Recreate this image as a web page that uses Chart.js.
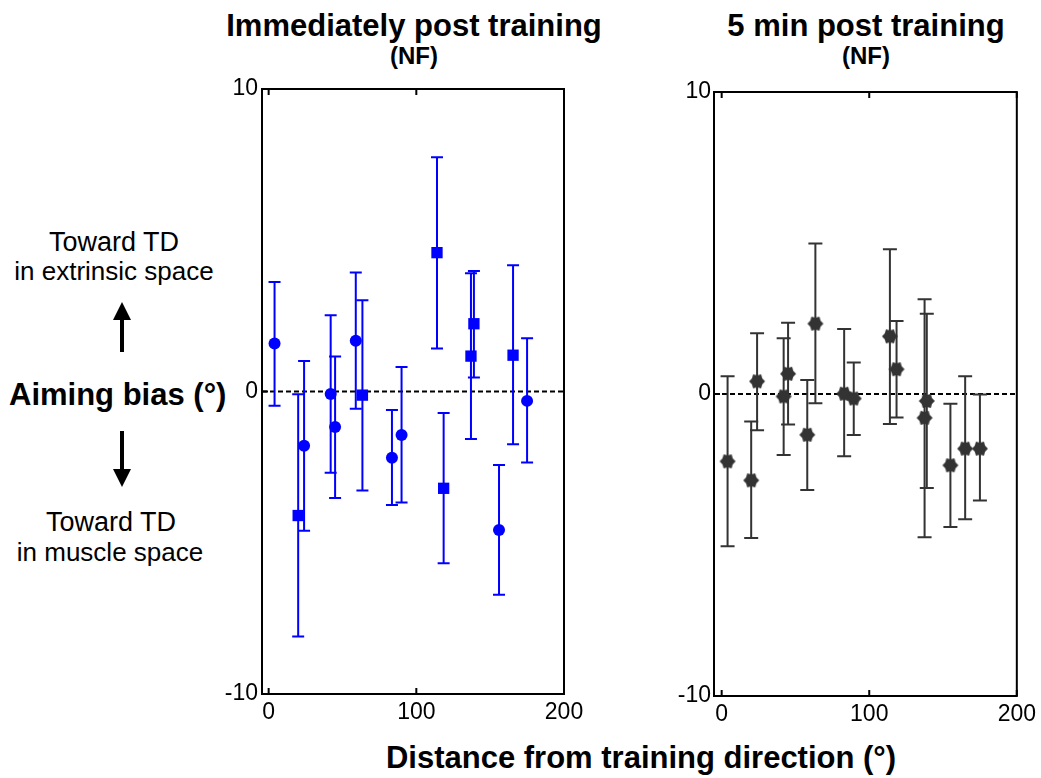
<!DOCTYPE html>
<html>
<head>
<meta charset="utf-8">
<title>Aiming bias</title>
<script src="https://cdn.jsdelivr.net/npm/chart.js@4.4.1/dist/chart.umd.min.js"></script>
<style>
body { margin: 0; background: #fff; }
#page { position: relative; width: 1041px; height: 778px; overflow: hidden;
        font-family: "Liberation Sans", Arial, sans-serif; color: #000; }
.txt { position: absolute; white-space: nowrap; line-height: 1; }
.c { transform: translateX(-50%); }
.b { font-weight: bold; }
canvas { position: absolute; }
</style>
</head>
<body>
<div id="page">
  <div class="txt c b" style="left:414px; top:10px; font-size:31px;">Immediately post training</div>
  <div class="txt c b" style="left:414px; top:44px; font-size:24px;">(NF)</div>
  <div class="txt c b" style="left:866px; top:10px; font-size:31px;">5 min post training</div>
  <div class="txt c b" style="left:866px; top:44px; font-size:24px;">(NF)</div>

  <div class="txt c" style="left:114px; top:229px; font-size:27px;">Toward TD</div>
  <div class="txt c" style="left:114px; top:258px; font-size:26px;">in extrinsic space</div>
  <div class="txt b" style="left:9px; top:379px; font-size:31px;">Aiming bias (°)</div>
  <div class="txt c" style="left:111px; top:509px; font-size:27px;">Toward TD</div>
  <div class="txt c" style="left:110px; top:539px; font-size:26px;">in muscle space</div>

  <svg style="position:absolute; left:0; top:0;" width="260" height="778">
    <line x1="122" y1="352" x2="122" y2="318" stroke="#000" stroke-width="4"/>
    <polygon points="113,320 131,320 122,302" fill="#000"/>
    <line x1="122" y1="431" x2="122" y2="470" stroke="#000" stroke-width="4"/>
    <polygon points="113,469 131,469 122,487" fill="#000"/>
  </svg>

  <div class="txt c b" style="left:641px; top:742px; font-size:31px;">Distance from training direction (°)</div>

  <canvas id="leftChart" width="400" height="670" style="left:190px; top:70px;"></canvas>
  <canvas id="rightChart" width="401" height="670" style="left:640px; top:70px;"></canvas>
</div>

<script>
'use strict';

// 左パネル（直後）: 丸マーカー
const leftCircleX  = [4, 24, 42, 45, 59, 83.5, 90, 156, 175];
const leftCircleY  = [1.59, -1.79, -0.08, -1.17, 1.68, -2.19, -1.44, -4.58, -0.31];
const leftCircleHi = [3.62, 1.01, 2.52, 1.16, 3.93, -0.61, 0.81, -2.43, 1.76];
const leftCircleLo = [-0.47, -4.60, -2.69, -3.52, -0.57, -3.75, -3.67, -6.72, -2.35];

// 左パネル（直後）: 四角マーカー
const leftSquareX  = [20, 63.5, 114, 118.5, 137, 139, 165.5];
const leftSquareY  = [-4.10, -0.12, 4.59, -3.20, 1.17, 2.24, 1.20];
const leftSquareHi = [-0.09, 3.02, 7.74, -0.71, 3.91, 3.98, 4.17];
const leftSquareLo = [-8.10, -3.27, 1.42, -5.68, -1.57, 0.46, -1.74];

// 右パネル（5分後）
const rightX  = [4, 20, 24, 42, 45, 58, 63.5, 83, 89.5, 114, 118.5, 137.5, 139, 155, 165, 175];
const rightY  = [-2.23, -2.86, 0.42, -0.08, 0.67, -1.35, 2.33, 0.01, -0.15, 1.91, 0.82, -0.79, -0.23, -2.36, -1.81, -1.81];
const rightHi = [0.59, -0.91, 2.01, 1.85, 2.36, 0.46, 4.98, 2.15, 1.04, 4.79, 2.42, 3.14, 2.66, -0.32, 0.59, -0.02];
const rightLo = [-5.04, -4.77, -1.20, -2.02, -1.01, -3.18, -0.31, -2.06, -1.36, -0.99, -0.78, -4.74, -3.11, -4.40, -4.15, -3.53];

// 軸の目盛り
const xTickValues = [0, 100, 200];
const yTickValues = [-10, 0, 10];

Chart.defaults.font.family = '"Liberation Sans", Arial, sans-serif';
Chart.defaults.color = '#000';

function points(xs, ys) {
    return xs.map((x, i) => ({ x: x, y: ys[i] }));
}

// 六角星マーカー
function makeStar(r, color) {
    const c = document.createElement('canvas');
    const s = Math.ceil(r * 2 + 2);
    c.width = s; c.height = s;
    const g = c.getContext('2d');
    g.fillStyle = color;
    g.beginPath();
    for (let k = 0; k < 12; k++) {
        const a = k * Math.PI / 6;
        const rr = (k % 2) ? r * 0.74 : r;
        g.lineTo(s / 2 + rr * Math.cos(a), s / 2 + rr * Math.sin(a));
    }
    g.closePath();
    g.fill();
    return c;
}

// エラーバー・ゼロ線・枠と内向き目盛り
const panelPlugin = {
    id: 'panelExtras',
    beforeDatasetsDraw(chart) {
        const ctx = chart.ctx;
        const xs = chart.scales.x, ys = chart.scales.y;
        const area = chart.chartArea;
        ctx.save();
        const y0 = ys.getPixelForValue(0);
        ctx.strokeStyle = '#000';
        ctx.lineWidth = 2;
        ctx.setLineDash([5, 3]);
        ctx.beginPath();
        ctx.moveTo(area.left, y0);
        ctx.lineTo(area.right, y0);
        ctx.stroke();
        ctx.setLineDash([]);

        chart.data.datasets.forEach(ds => {
            ctx.strokeStyle = ds.errColor;
            ctx.lineWidth = 2;
            const cap = ds.capHalf;
            ds.data.forEach((p, i) => {
                const px = xs.getPixelForValue(p.x);
                const top = ys.getPixelForValue(ds.hi[i]);
                const bot = ys.getPixelForValue(ds.lo[i]);
                ctx.beginPath();
                ctx.moveTo(px, top); ctx.lineTo(px, bot);
                ctx.moveTo(px - cap, top); ctx.lineTo(px + cap, top);
                ctx.moveTo(px - cap, bot); ctx.lineTo(px + cap, bot);
                ctx.stroke();
            });
        });
        ctx.restore();
    },
    afterDraw(chart) {
        const ctx = chart.ctx;
        const xs = chart.scales.x, ys = chart.scales.y;
        const a = chart.chartArea;
        ctx.save();
        ctx.strokeStyle = '#000';
        ctx.lineWidth = 2;
        ctx.strokeRect(a.left, a.top, a.right - a.left, a.bottom - a.top);
        ctx.beginPath();
        xTickValues.forEach(v => {
            const px = xs.getPixelForValue(v);
            ctx.moveTo(px, a.bottom); ctx.lineTo(px, a.bottom - 6);
            ctx.moveTo(px, a.top); ctx.lineTo(px, a.top + 6);
        });
        yTickValues.forEach(v => {
            const py = ys.getPixelForValue(v);
            ctx.moveTo(a.left, py); ctx.lineTo(a.left + 6, py);
        });
        ctx.stroke();
        ctx.restore();
    }
};

function makePanel(id, datasets, opt) {
    return new Chart(document.getElementById(id), {
        type: 'scatter',
        data: { datasets: datasets },
        options: {
            responsive: false,
            animation: false,
            devicePixelRatio: 1,
            layout: { padding: { top: opt.padTop, right: opt.padRight, left: 0, bottom: 0 } },
            plugins: { legend: { display: false }, tooltip: { enabled: false } },
            scales: {
                x: {
                    type: 'linear',
                    min: opt.xMin,
                    max: 200,
                    grid: { display: false, drawTicks: false },
                    border: { display: false },
                    ticks: { font: { size: 23 }, padding: 5, color: '#000' },
                    afterBuildTicks: s => { s.ticks = xTickValues.map(v => ({ value: v })); },
                    afterFit: s => { s.height = opt.xHeight; }
                },
                y: {
                    type: 'linear',
                    min: -10,
                    max: 10,
                    grid: { display: false, drawTicks: false },
                    border: { display: false },
                    ticks: { font: { size: 23 }, padding: opt.yPad, color: '#000' },
                    afterBuildTicks: s => { s.ticks = yTickValues.map(v => ({ value: v })); },
                    afterFit: s => { s.width = opt.yWidth; }
                }
            }
        },
        plugins: [panelPlugin]
    });
}

const blue = '#0000ff';
const dark = '#333333';

makePanel('leftChart', [
    {
        data: points(leftCircleX, leftCircleY),
        hi: leftCircleHi, lo: leftCircleLo,
        errColor: blue, capHalf: 6,
        pointStyle: 'circle', pointRadius: 6,
        backgroundColor: blue, borderColor: blue, borderWidth: 0
    },
    {
        data: points(leftSquareX, leftSquareY),
        hi: leftSquareHi, lo: leftSquareLo,
        errColor: blue, capHalf: 6,
        pointStyle: 'rect', pointRadius: 8,
        backgroundColor: blue, borderColor: blue, borderWidth: 0
    }
], { xMin: -4.5, padTop: 19, padRight: 26, yWidth: 72, xHeight: 46, yPad: 4 });

makePanel('rightChart', [
    {
        data: points(rightX, rightY),
        hi: rightHi, lo: rightLo,
        errColor: dark, capHalf: 7,
        pointStyle: makeStar(8, dark), pointRadius: 8,
        backgroundColor: dark, borderColor: dark, borderWidth: 0
    }
], { xMin: -5.2, padTop: 22, padRight: 24, yWidth: 74, xHeight: 44, yPad: 3 });
</script>
</body>
</html>
